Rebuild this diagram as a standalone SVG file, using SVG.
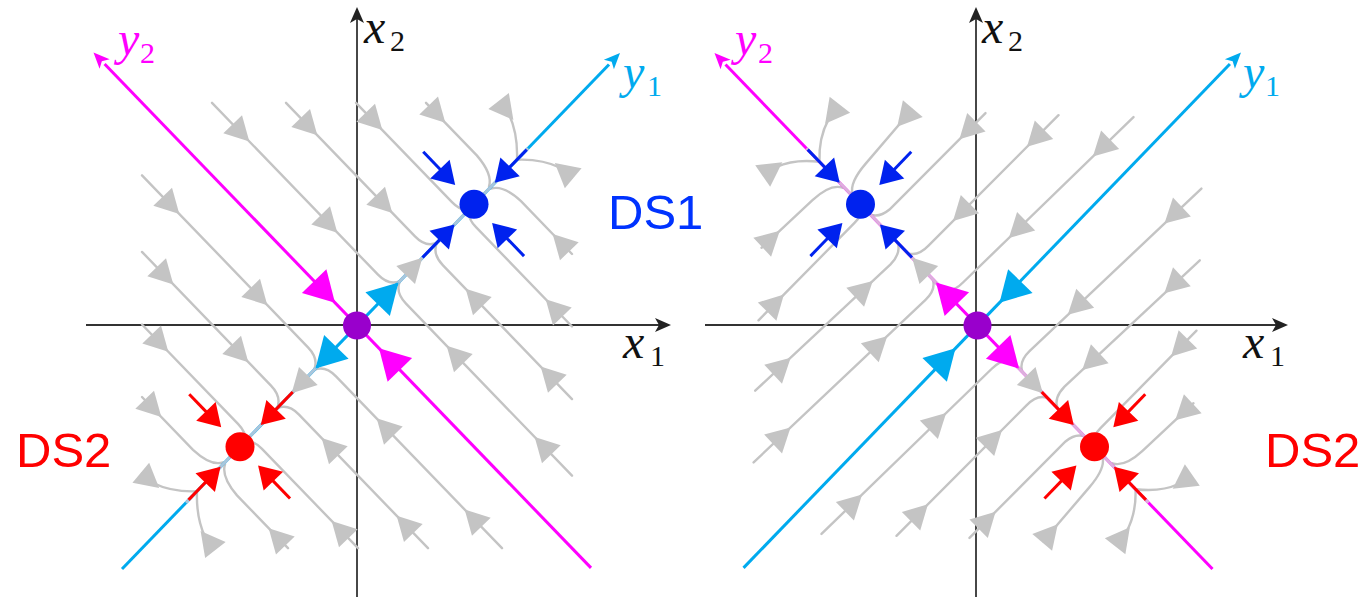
<svg xmlns="http://www.w3.org/2000/svg" xmlns:xlink="http://www.w3.org/1999/xlink" width="1366" height="597" viewBox="0 0 1366 597">
<style>
.ax{stroke:#333;stroke-width:1.8;fill:none}
.gl{stroke:#c4c4c4;stroke-width:2.4;fill:none;stroke-linecap:round}
.cy{stroke:#00aaee;stroke-width:3;fill:none}
.mg{stroke:#ff00ff;stroke-width:3;fill:none}
.ltc{stroke:#a9c6dc;stroke-width:3}
.ltm{stroke:#dcb0dc;stroke-width:3}
.m{font-family:"Liberation Serif","Times New Roman",serif;font-style:italic;font-size:48px}
.s{font-family:"Liberation Serif","Times New Roman",serif;font-size:30px}
.ds{font-family:"Liberation Sans",Arial,sans-serif;font-size:49px}
</style>
<defs>
<path id="ga" d="M12,0 L-12,-13 L-12,13 Z" fill="#c4c4c4"/>
<path id="big" d="M0,0 L-30,-17 L-30,17 Z"/>
<path id="tip" d="M0,0 L-16,-7 L-12,0 L-16,7 Z"/>
<g id="dsa"><line x1="-46" y1="0" x2="-18" y2="0" stroke-width="3"/><path d="M0,0 L-22,-13.5 L-22,13.5 Z" stroke="none"/></g>
<g id="dsq">
<use href="#dsa" transform="translate(-18.8,-19.4) rotate(46)"/>
<use href="#dsa" transform="translate(18.1,18.7) rotate(226)"/>
<use href="#dsa" transform="translate(20.8,-21.6) rotate(134)"/>
<use href="#dsa" transform="translate(-19.5,20.1) rotate(-46)"/>
</g>
</defs>

<g id="axes">
<line class="ax" x1="357" y1="597" x2="357" y2="19"/>
<use href="#tip" transform="translate(357,7) rotate(-90)" fill="#222"/>
<line class="ax" x1="86" y1="325" x2="659" y2="325"/>
<use href="#tip" transform="translate(671,325)" fill="#222"/>
<line class="ax" x1="976" y1="597" x2="976" y2="19"/>
<use href="#tip" transform="translate(976,7) rotate(-90)" fill="#222"/>
<line class="ax" x1="705" y1="325" x2="1276" y2="325"/>
<use href="#tip" transform="translate(1288,325)" fill="#222"/>
</g>

<g id="left-streamlines">
<g id="lpos">
<path class="gl" d="M212,102.8 L378,274.7 Q389,286.1 400,281"/>
<path class="gl" d="M286,102.8 L415,236.4 Q426,247.8 437,242.6"/>
<path class="gl" d="M356,102.8 L452,202.2 Q460,210.5 467,209.5"/>
<path class="gl" d="M426,102.8 L477,155.6 Q493,174.3 489,186.7"/>
<path class="gl" d="M500,102.8 L509,114.2 Q518,133.8 517,159.7"/>
<path class="gl" d="M572,475.7 L406,303.7 Q395,292.3 400,281"/>
<path class="gl" d="M572,399.1 L443,265.4 Q432,254 437,242.6"/>
<path class="gl" d="M572,326.5 L476,227.1 Q468,218.8 469,211.5"/>
<path class="gl" d="M572,254 L521,201.2 Q503,184.6 491,188.7"/>
<path class="gl" d="M572,177.4 L561,168 Q542,158.7 517,159.7"/>
<use href="#ga" transform="translate(241,132.8) rotate(46)"/>
<use href="#ga" transform="translate(329,224) rotate(46)"/>
<use href="#ga" transform="translate(309,126.6) rotate(46)"/>
<use href="#ga" transform="translate(384,204.3) rotate(46)"/>
<use href="#ga" transform="translate(374,121.4) rotate(46)"/>
<use href="#ga" transform="translate(437,114.2) rotate(46)"/>
<use href="#ga" transform="translate(506,110.5) rotate(52)"/>
<use href="#ga" transform="translate(543,445.7) rotate(226)"/>
<use href="#ga" transform="translate(455,354.5) rotate(226)"/>
<use href="#ga" transform="translate(549,375.2) rotate(226)"/>
<use href="#ga" transform="translate(474,297.5) rotate(226)"/>
<use href="#ga" transform="translate(554,307.9) rotate(226)"/>
<use href="#ga" transform="translate(561,242.6) rotate(226)"/>
<use href="#ga" transform="translate(564,170.6) rotate(220)"/>
</g>
<use href="#lpos" transform="rotate(180 357 325.5)"/>
</g>

<g id="right-streamlines" transform="matrix(-1 0 0 1 1334.5 0)">
<g id="rpos">
<path class="gl" d="M497.3,108.3 L506,119.4 Q516,138 515,161.8"/>
<path class="gl" d="M422.7,109.7 L469,163.9 Q485,182.5 482,193.9"/>
<path class="gl" d="M349,113.1 L445,209.5 Q455,217.8 464,214.6"/>
<path class="gl" d="M276,115.2 L406,245.7 Q417,257.1 427,253"/>
<path class="gl" d="M201,117.1 L371,282 Q382,293.4 392,289.2"/>
<path class="gl" d="M570,173.2 L558,167 Q540,158.7 515,161.8"/>
<path class="gl" d="M573,247.8 L522,200.1 Q504,183.6 492,187.7"/>
<path class="gl" d="M576,320.3 L480,222.9 Q472,214.6 472,208.4"/>
<path class="gl" d="M579.3,390.7 L444,264.4 Q433,253 437,242.6"/>
<path class="gl" d="M580.9,462.4 L409,299.8 Q398,289.2 402,278.9"/>
<use href="#ga" transform="translate(502,114.3) rotate(52)"/>
<use href="#ga" transform="translate(429.5,117.7) rotate(49.5)"/>
<use href="#ga" transform="translate(366.6,130.8) rotate(45)"/>
<use href="#ga" transform="translate(299,138.3) rotate(45)"/>
<use href="#ga" transform="translate(373,212.6) rotate(45)"/>
<use href="#ga" transform="translate(233,148.1) rotate(44)"/>
<use href="#ga" transform="translate(317,229.6) rotate(44)"/>
<use href="#ga" transform="translate(562,169.1) rotate(215)"/>
<use href="#ga" transform="translate(563.5,239) rotate(223)"/>
<use href="#ga" transform="translate(559,303) rotate(225.5)"/>
<use href="#ga" transform="translate(552.6,366) rotate(223)"/>
<use href="#ga" transform="translate(470.5,289.1) rotate(223)"/>
<use href="#ga" transform="translate(552.7,435.7) rotate(223.4)"/>
<use href="#ga" transform="translate(456,344.5) rotate(223.4)"/>
</g>
<use href="#rpos" transform="rotate(180 357 325.5)"/>
</g>

<g id="left-eigen-lines">
<line class="cy" x1="122" y1="569" x2="609" y2="64.5"/>
<line class="ltc" x1="397" y1="284.1" x2="528" y2="148.3"/>
<line class="ltc" x1="317" y1="366.9" x2="186" y2="502.7"/>
<use href="#tip" transform="translate(620,53) rotate(-46)" fill="#00aaee"/>
<line class="mg" x1="591" y1="567.9" x2="104.6" y2="64"/>
<use href="#tip" transform="translate(93.5,52.5) rotate(226)" fill="#ff00ff"/>
<use href="#ga" transform="translate(414,266.4) rotate(-46)"/>
<use href="#ga" transform="translate(300,384.6) rotate(134)"/>
<use href="#big" transform="translate(398.5,282.5) rotate(-46)" fill="#00aaee"/>
<use href="#big" transform="translate(315.5,368.5) rotate(134)" fill="#00aaee"/>
<use href="#big" transform="translate(335,302.7) rotate(46)" fill="#ff00ff"/>
<use href="#big" transform="translate(379,348.3) rotate(226)" fill="#ff00ff"/>
<use href="#dsq" transform="translate(474,204.3)" fill="#0022ee" stroke="#0022ee"/>
<use href="#dsq" transform="translate(240,446.7)" fill="#ff0000" stroke="#ff0000"/>
</g>

<g id="right-eigen-lines" transform="matrix(-1 0 0 1 1334.5 0)">
<line class="mg" x1="122" y1="569" x2="609" y2="64.5"/>
<line class="ltm" x1="397" y1="284.1" x2="528" y2="148.3"/>
<line class="ltm" x1="317" y1="366.9" x2="186" y2="502.7"/>
<use href="#tip" transform="translate(620,53) rotate(-46)" fill="#ff00ff"/>
<line class="cy" x1="591" y1="567.9" x2="104.6" y2="64"/>
<use href="#tip" transform="translate(93.5,52.5) rotate(226)" fill="#00aaee"/>
<use href="#ga" transform="translate(414,266.4) rotate(-46)"/>
<use href="#ga" transform="translate(300,384.6) rotate(134)"/>
<use href="#big" transform="translate(398.5,282.5) rotate(-46)" fill="#ff00ff"/>
<use href="#big" transform="translate(315.5,368.5) rotate(134)" fill="#ff00ff"/>
<use href="#big" transform="translate(335,302.7) rotate(46)" fill="#00aaee"/>
<use href="#big" transform="translate(379,348.3) rotate(226)" fill="#00aaee"/>
<use href="#dsq" transform="translate(474,204.3)" fill="#0022ee" stroke="#0022ee"/>
<use href="#dsq" transform="translate(240,446.7)" fill="#ff0000" stroke="#ff0000"/>
</g>

<g id="origin-left"><circle cx="357" cy="325.5" r="14" fill="#9900cc"/></g>
<g id="origin-right"><circle cx="977.5" cy="325.5" r="14" fill="#9900cc"/></g>
<g id="ds1-left"><circle cx="474" cy="204.3" r="14.5" fill="#0022ee"/></g>
<g id="ds2-left"><circle cx="240" cy="446.7" r="14.5" fill="#ff0000"/></g>
<g id="ds1-right"><circle cx="860.5" cy="204.3" r="14.5" fill="#0022ee"/></g>
<g id="ds2-right"><circle cx="1094.5" cy="446.7" r="14.5" fill="#ff0000"/></g>

<g id="labels">
<text class="m" x="364" y="43" fill="#111">x</text><text class="s" x="390" y="51" fill="#111">2</text>
<text class="m" x="623" y="358" fill="#111">x</text><text class="s" x="650" y="366" fill="#111">1</text>
<text class="m" x="118" y="55" fill="#ff00ff">y</text><text class="s" x="140" y="63" fill="#ff00ff">2</text>
<text class="m" x="623" y="88" fill="#00aaee">y</text><text class="s" x="647" y="96" fill="#00aaee">1</text>
<text class="m" x="982" y="43" fill="#111">x</text><text class="s" x="1008" y="51" fill="#111">2</text>
<text class="m" x="1243" y="358" fill="#111">x</text><text class="s" x="1270" y="366" fill="#111">1</text>
<text class="m" x="735" y="55" fill="#ff00ff">y</text><text class="s" x="758" y="63" fill="#ff00ff">2</text>
<text class="m" x="1243" y="88" fill="#00aaee">y</text><text class="s" x="1265" y="96" fill="#00aaee">1</text>
<text class="ds" x="608" y="228.5" fill="#0033ff">DS1</text>
<text class="ds" x="16" y="467" fill="#ff0000">DS2</text>
<text class="ds" x="1265" y="467" fill="#ff0000">DS2</text>
</g>
</svg>
